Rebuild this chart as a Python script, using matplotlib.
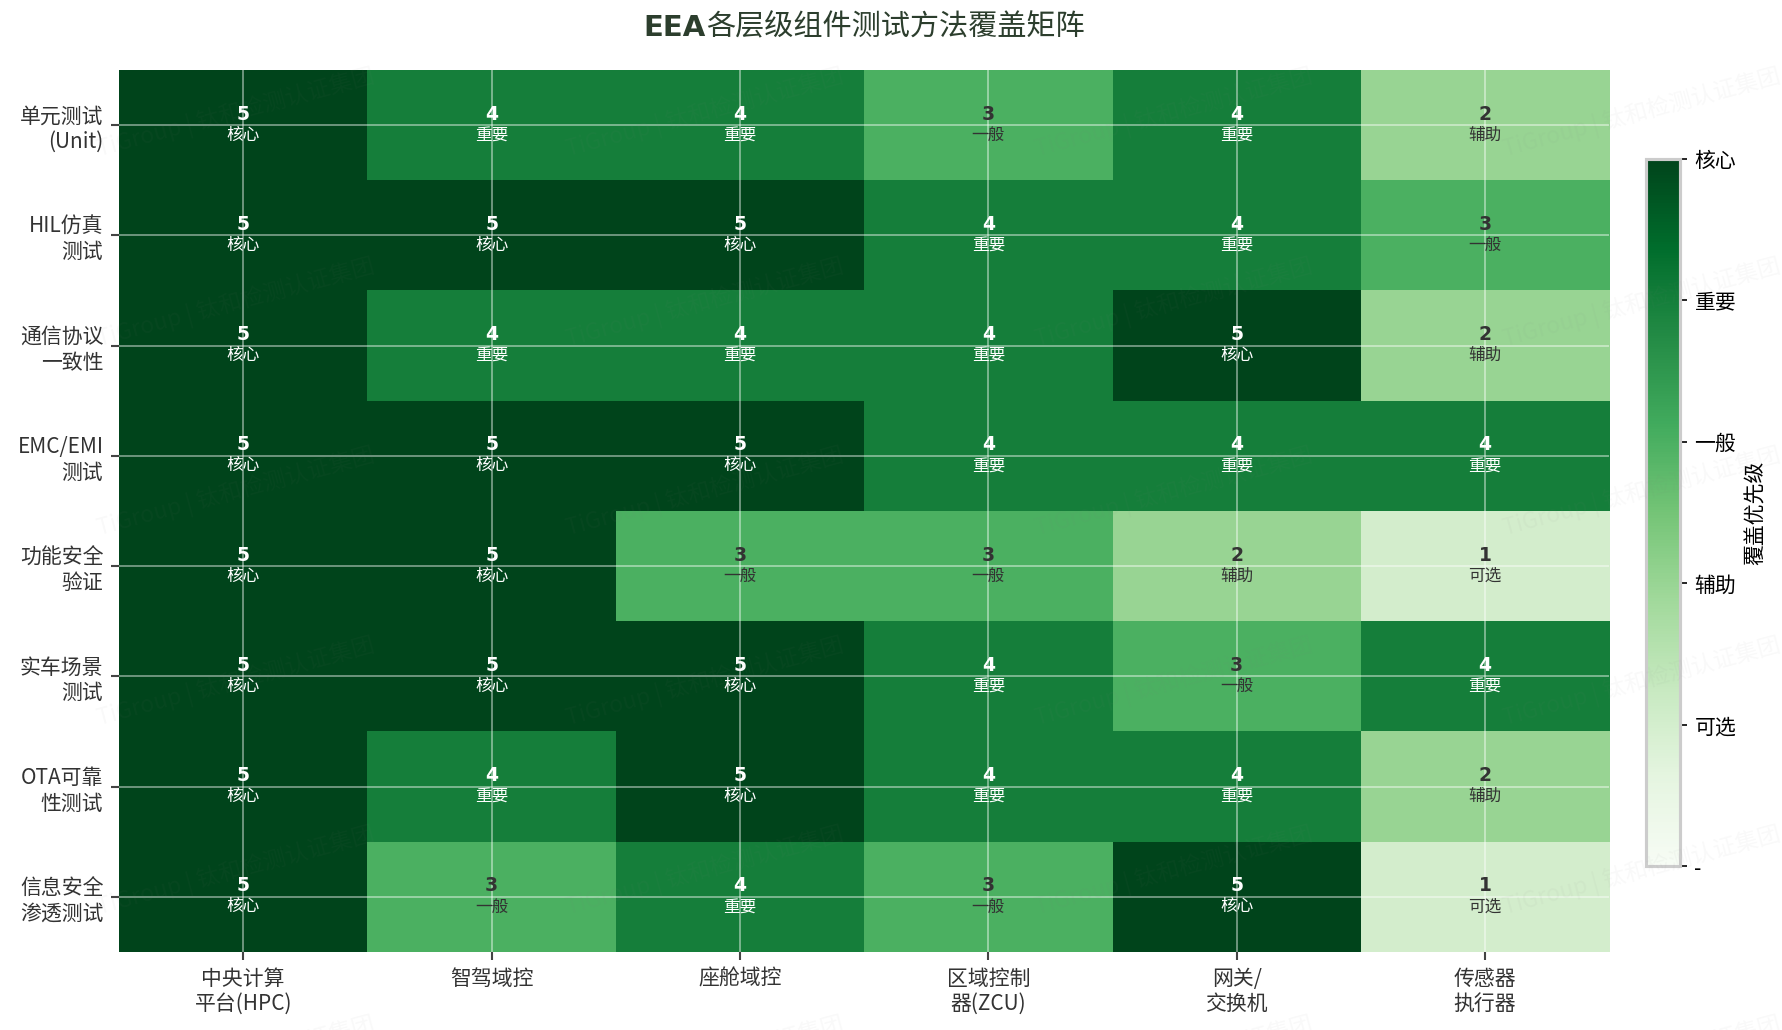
import numpy as np
import matplotlib
matplotlib.use("Agg")
import matplotlib.pyplot as plt

plt.rcParams['font.family'] = ['Noto Sans CJK SC', 'DejaVu Sans']

# 数据
tests = ['单元测试\n(Unit)', 'HIL仿真\n测试', '通信协议\n一致性', 'EMC/EMI\n测试',
         '功能安全\n验证', '实车场景\n测试', 'OTA可靠\n性测试', '信息安全\n渗透测试']
components = ['中央计算\n平台(HPC)', '智驾域控', '座舱域控', '区域控制\n器(ZCU)',
              '网关/\n交换机', '传感器\n执行器']
scores = [
    [5, 4, 4, 3, 4, 2],
    [5, 5, 5, 4, 4, 3],
    [5, 4, 4, 4, 5, 2],
    [5, 5, 5, 4, 4, 4],
    [5, 5, 3, 3, 2, 1],
    [5, 5, 5, 4, 3, 4],
    [5, 4, 5, 4, 4, 2],
    [5, 3, 4, 3, 5, 1],
]
level_names = ['-', '可选', '辅助', '一般', '重要', '核心']

data = np.array(scores)

fig = plt.figure(figsize=(11.88, 6.8667), dpi=150)
ax = fig.add_axes([0.0668, 0.0757, 0.8362, 0.8563])

im = ax.imshow(data, cmap='Greens', vmin=0, vmax=5, aspect='auto')

ax.set_xticks(range(len(components)))
ax.set_xticklabels(components, fontsize=10, color='#333333')
ax.set_yticks(range(len(tests)))
ax.set_yticklabels(tests, fontsize=10, color='#333333')
ax.tick_params(length=4, width=1, color='#444444')
for s in ax.spines.values():
    s.set_visible(False)
ax.grid(True, color='white', alpha=0.5, lw=0.8)
ax.set_axisbelow(False)

for i in range(data.shape[0]):
    for j in range(data.shape[1]):
        v = data[i, j]
        c = 'white' if v >= 4 else '#333333'
        ax.text(j, i - 0.1, str(v), ha='center', va='center', fontsize=9,
                fontweight='bold', color=c, family=['DejaVu Sans', 'Noto Sans CJK SC'])
        ax.text(j, i + 0.09, level_names[v], ha='center', va='center',
                fontsize=8, color=c)

# 标题: EEA 粗体, 中文常规
fig.canvas.draw()
r = fig.canvas.get_renderer()
tcol = '#2c3e2d'
t1 = fig.text(0, 0.973, 'EEA', fontsize=14, fontweight='bold', color=tcol,
              family='DejaVu Sans', va='center')
t2 = fig.text(0, 0.973, '各层级组件测试方法覆盖矩阵', fontsize=14, color=tcol, va='center')
w1 = t1.get_window_extent(r).width / fig.bbox.width
w2 = t2.get_window_extent(r).width / fig.bbox.width
x0 = 0.0668 + 0.8362 / 2 - (w1 + w2) / 2
t1.set_x(x0)
t2.set_x(x0 + w1)

cax = fig.add_axes([0.9237, 0.159, 0.019, 0.687])
cb = fig.colorbar(im, cax=cax)
cb.set_ticks(range(6))
cb.set_ticklabels(level_names, fontsize=10)
cb.outline.set_edgecolor('#cccccc')
cb.outline.set_linewidth(1.5)
cb.set_label('覆盖优先级', fontsize=10, labelpad=4)

# 水印
for row in range(6):
    for k in range(4):
        x = 0.053 + 0.263 * k
        y = 0.89 - 0.184 * row
        fig.text(x, y, 'TiGroup | 钛和检测认证集团', fontsize=11, color='gray',
                 alpha=0.05, rotation=15, ha='left', va='center', zorder=10)

fig.savefig('out.png', dpi=150)
